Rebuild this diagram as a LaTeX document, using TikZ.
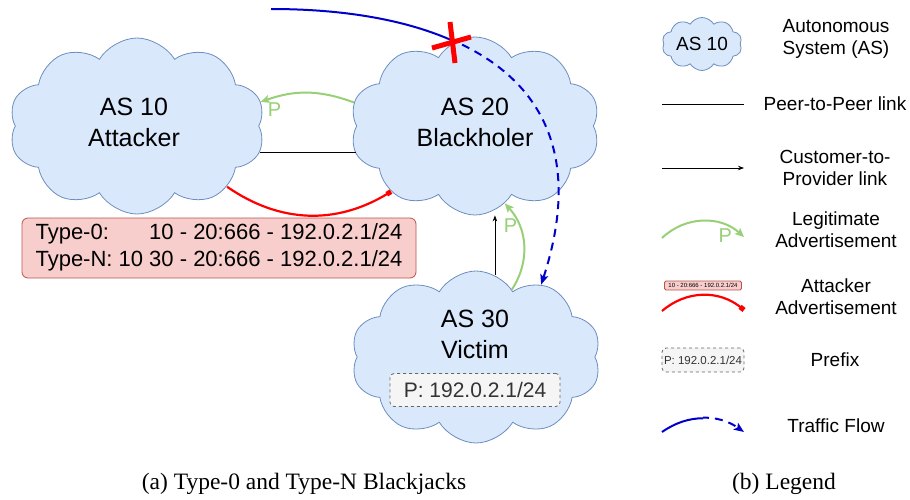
\documentclass[tikz,border=0pt]{standalone}
\usepackage{fontspec}
\setmainfont{Liberation Sans}
\newfontfamily\capfont{Liberation Serif}
\usetikzlibrary{shapes.symbols,arrows.meta,calc}
\definecolor{cloudfill}{HTML}{DAE8FC}
\definecolor{clouddraw}{HTML}{6C8EBF}
\definecolor{advfill}{HTML}{F8CECC}
\definecolor{advdraw}{HTML}{B85450}
\definecolor{pfxfill}{HTML}{F5F5F5}
\definecolor{pfxdraw}{HTML}{666666}
\definecolor{pfxtext}{HTML}{333333}
\definecolor{legitc}{HTML}{97D077}
\definecolor{attackc}{HTML}{FF0000}
\definecolor{trafficc}{HTML}{0000CC}
\begin{document}
\begin{tikzpicture}[x=1pt,y=1pt,
  ascloud/.style={cloud, cloud puffs=10, cloud puff arc=118, cloud ignores aspect,
    draw=clouddraw, fill=cloudfill, line width=0.8pt, inner sep=0pt},
  aslabel/.style={font=\fontsize{25}{31}\selectfont, align=center, inner sep=0pt},
  lgtext/.style={font=\fontsize{19}{22}\selectfont, align=center, inner sep=0pt},
  capt/.style={font=\capfont\fontsize{23.5}{28}\selectfont, inner sep=0pt},
  advbox/.style={draw=advdraw, fill=advfill, rounded corners=6pt, line width=0.8pt, inner sep=0pt},
  pfxbox/.style={draw=pfxdraw, fill=pfxfill, dashed, rounded corners=4pt, line width=0.8pt,
    text=pfxtext, inner sep=0pt},
  peer/.style={draw=black, line width=0.8pt},
  ctop/.style={draw=black, line width=0.8pt, -{Stealth[length=6pt,width=4.5pt]}},
  legit/.style={draw=legitc, line width=2pt, -{Stealth[length=9pt,width=8pt,inset=2pt]}},
  plabel/.style={text=legitc, font=\fontsize{20}{24}\selectfont, inner sep=1pt},
  attack/.style={draw=attackc, line width=2.2pt, -{Square[length=5pt,width=5pt]}},
  traffic/.style={draw=trafficc, line width=2pt},
  trafficdash/.style={draw=trafficc, line width=2pt, dash pattern=on 8pt off 6pt,
    -{Stealth[length=10pt,width=8pt,inset=2pt]}},
  xmark/.style={draw=attackc, line width=5pt}
]
\useasboundingbox (0,0) rectangle (910,-499);

% ---- main diagram clouds
\node[ascloud, minimum width=256pt, minimum height=176pt] (a10) at (137,-126) {};
\node[ascloud, minimum width=250pt, minimum height=178pt] (a20) at (475,-126) {};
\node[ascloud, minimum width=250pt, minimum height=172pt] (a30) at (476,-357) {};

\node[aslabel] (l10) at (134,-122) {AS 10\\Attacker};
\node[aslabel] (l20) at (475,-122) {AS 20\\Blackholer};
\node[aslabel] (l30) at (475,-334) {AS 30\\Victim};

\node[pfxbox, minimum width=170pt, minimum height=33pt, font=\fontsize{21}{25}\selectfont]
  (pfx) at (475,-390) {P: 192.0.2.1/24};

\node[advbox, minimum width=394pt, minimum height=60pt, font=\fontsize{22}{27}\selectfont]
  (adv) at (219,-248) {\begin{tabular}{@{}l@{ }r@{}}Type-0: & 10 - 20:666 - 192.0.2.1/24\\
  Type-N: & 10 30 - 20:666 - 192.0.2.1/24\end{tabular}};

% ---- connectors
\draw[peer] (a10.-12) -- (a10.-12 -| a20.193);
\draw[ctop] (a30.77) -- (a30.77 |- a20.south);
\draw[legit] (a20.169) to[bend right=20] node[plabel, pos=0.86, below=3pt] (p1) {P} (a10.11);
\draw[legit] (a30.62) to[bend right=38] node[plabel, pos=0.72, left] (p2) {P} (a20.-69);
\draw[attack] (a10.-34) to[bend right=33] (a20.218);

\coordinate (tstart) at (271,-9);
\begin{scope}
  \clip (0,0) rectangle (454,-70);
  \draw[traffic] (tstart) .. controls +(180,0) and +(68,209) .. (a30.48);
\end{scope}
\begin{scope}
  \clip (454,0) rectangle (910,-499);
  \draw[trafficdash] (tstart) .. controls +(180,0) and +(68,209) .. (a30.48);
\end{scope}
\draw[xmark] (450,-22) -- (455,-63);
\draw[xmark] (432,-48) -- (471,-37);

% ---- legend
\node[ascloud, minimum width=80pt, minimum height=53pt, font=\fontsize{19}{22}\selectfont]
  (lgcloud) at (702,-44) {AS 10};
\node[lgtext] (lgt1) at (836,-39) {Autonomous\\System (AS)};

\coordinate (lpa) at (662,-104);
\coordinate (lpb) at (744,-104);
\draw[peer] (lpa) -- (lpb);
\node[lgtext] (lgt2) at (835,-104) {Peer-to-Peer link};

\coordinate (lca) at (662,-168);
\coordinate (lcb) at (744,-168);
\draw[ctop] (lca) -- (lcb);
\node[lgtext] (lgt3) at (835,-168) {Customer-to-\\Provider link};

\coordinate (lga) at (662,-238);
\coordinate (lgb) at (744,-237);
\draw[legit] (lga) to[bend left=43] node[plabel, pos=0.76, below=1pt] (lgp) {P} (lgb);
\node[lgtext] (lgt4) at (836,-230) {Legitimate\\Advertisement};

\node[advbox, rounded corners=1.5pt, minimum width=77pt, minimum height=9pt,
  font=\fontsize{6}{7}\selectfont] (lgadv) at (703,-285.5) {10 - 20:666 - 192.0.2.1/24};
\coordinate (laa) at (662,-311);
\coordinate (lab) at (744,-310);
\draw[attack] (laa) to[bend left=40] (lab);
\node[lgtext] (lgt5) at (836,-297) {Attacker\\Advertisement};

\node[pfxbox, minimum width=82pt, minimum height=24pt, font=\fontsize{11.5}{14}\selectfont]
  (lgpfx) at (703,-360) {P: 192.0.2.1/24};
\node[lgtext] (lgt6) at (835,-360) {Prefix};

\coordinate (lta) at (662,-432);
\coordinate (ltb) at (744,-432);
\begin{scope}
  \clip (600,-400) rectangle (703,-450);
  \draw[traffic] (lta) to[bend left=35] (ltb);
\end{scope}
\begin{scope}
  \clip (703,-400) rectangle (760,-450);
  \draw[trafficdash] (lta) to[bend left=35] (ltb);
\end{scope}
\node[lgtext] (lgt7) at (836,-426) {Traffic Flow};

% ---- captions
\node[capt] (capa) at (304,-484) {(a) Type-0 and Type-N Blackjacks};
\node[capt] (capb) at (784,-484) {(b) Legend};
\end{tikzpicture}
\end{document}
